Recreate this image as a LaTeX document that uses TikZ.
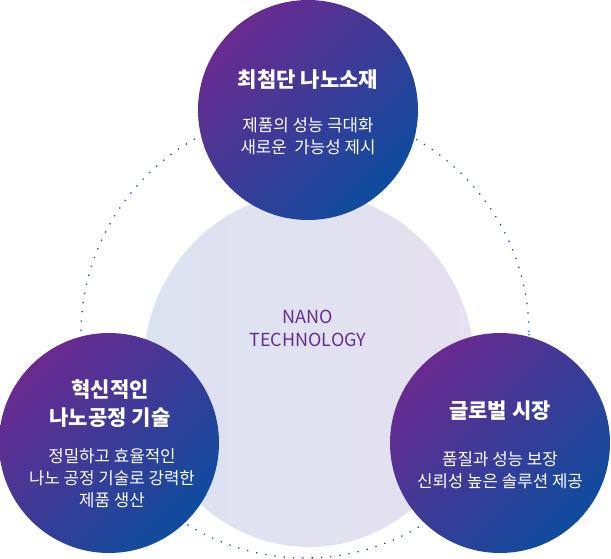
\documentclass[tikz,border=0pt]{standalone}
\usepackage{fontspec}
\setmainfont{Noto Sans CJK KR}
\usetikzlibrary{shapes.geometric}
\definecolor{npurple}{HTML}{6A2A90}
\definecolor{nblue}{HTML}{0E4C9E}
\definecolor{coreL}{HTML}{DCE3F0}
\definecolor{coreR}{HTML}{E6E0EF}
\definecolor{dotblue}{HTML}{1B4E9E}
\definecolor{nanotext}{HTML}{61308F}

\begin{document}
\begin{tikzpicture}[x=1pt,y=-1pt,
    ball/.style={circle,minimum size=220pt,inner sep=0pt,
      top color=npurple,bottom color=nblue,shading angle=45},
    titletext/.style={text=white,align=center,
      font=\bfseries\fontsize{21}{28}\selectfont},
    bodytext/.style={text=white,align=center,
      font=\fontsize{16.8}{22}\selectfont},
    dotline/.style={dotblue,line width=1.3pt,dash pattern=on 1.3pt off 8pt}]
  \useasboundingbox (0,0) rectangle (611,558);

  % Ring
  \coordinate (ring) at (305,334);
  \draw[dotline] (ring) circle (224);

  % Core
  \node[ellipse,minimum width=332pt,minimum height=354pt,inner sep=0pt,
    left color=coreL,right color=coreR] (core) at (309,370) {};
  \node[text=nanotext,align=center,font=\fontsize{18}{23}\selectfont]
    (coreText) at (308,328) {NANO\\TECHNOLOGY};

  % Balls
  \node[ball] (top) at (308,110) {};
  \begin{scope}
    \clip (308,110) circle (110);
    \draw[dotline,opacity=0.4] (ring) circle (224);
  \end{scope}
  \node[ball] (left) at (109,443) {};
  \node[ball] (right) at (500,443) {};

  % Labels
  \node[titletext] (topTitle) at (308,80) {최첨단 나노소재};
  \node[bodytext] (topBody) at (308,136) {제품의 성능 극대화\\새로운~~가능성 제시};
  \node[titletext] (leftTitle) at (110,404) {혁신적인\\나노공정 기술};
  \node[bodytext] (leftBody) at (112,478) {정밀하고 효율적인\\나노 공정 기술로 강력한\\제품 생산};
  \node[titletext] (rightTitle) at (500,411) {글로벌 시장};
  \node[bodytext] (rightBody) at (500,470) {품질과 성능 보장\\신뢰성 높은 솔루션 제공};
\end{tikzpicture}
\end{document}
